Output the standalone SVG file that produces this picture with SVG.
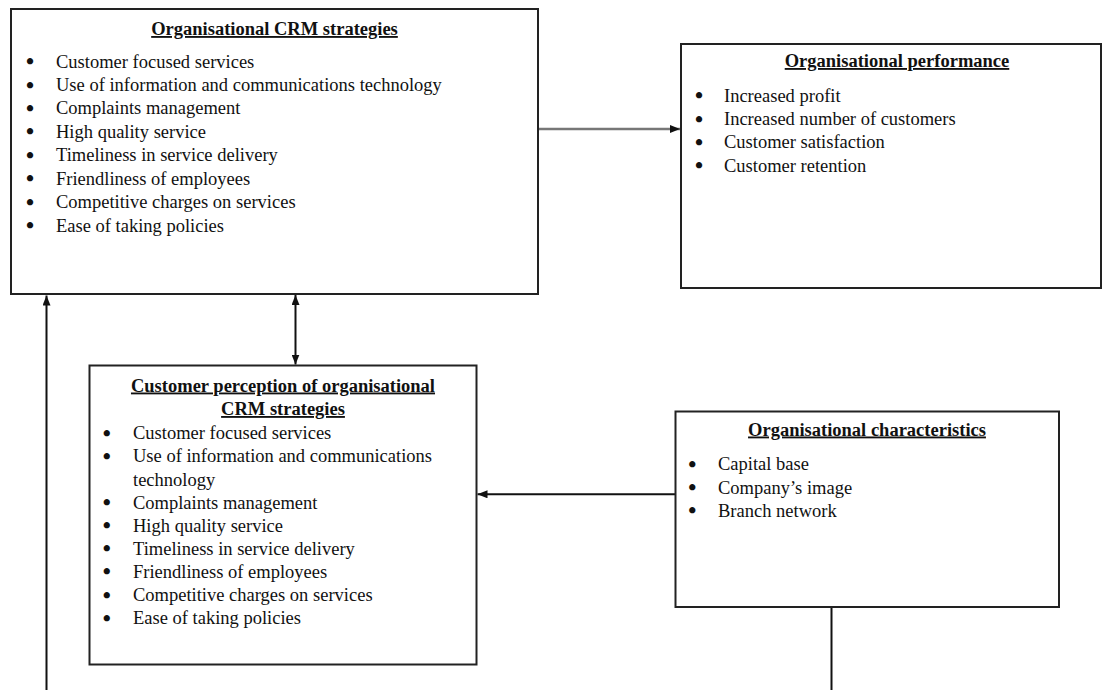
<svg xmlns="http://www.w3.org/2000/svg" width="1103" height="690" viewBox="0 0 1103 690">
<style>
.box{fill:#fff;stroke:#222;stroke-width:2}
.t{font-family:"Liberation Serif","Times New Roman",serif;font-size:18.5px;fill:#111}
.title{font-weight:bold;text-decoration:underline;text-anchor:middle}
.b{text-anchor:middle;font-size:23px;font-weight:bold}
.c{stroke:#111;stroke-width:2;fill:none}
</style>
<defs>
<marker id="ah" viewBox="0 0 10 8" markerWidth="10" markerHeight="8" refX="10" refY="4" orient="auto-start-reverse" markerUnits="userSpaceOnUse">
<path d="M0,0 L10,4 L0,8 z" fill="#111"/>
</marker>
</defs>
<rect width="1103" height="690" fill="#fff"/>
<g id="connectors">
<line class="c" x1="538" y1="129" x2="680" y2="129" style="stroke:#777;stroke-width:2.5" marker-end="url(#ah)"/>
<line class="c" x1="675" y1="494.3" x2="477.5" y2="494.3" marker-end="url(#ah)"/>
<line class="c" x1="295.5" y1="295" x2="295.5" y2="364.5" marker-start="url(#ah)" marker-end="url(#ah)"/>
<line class="c" x1="46.5" y1="690" x2="46.5" y2="295.5" marker-end="url(#ah)"/>
<line class="c" x1="831.5" y1="608" x2="831.5" y2="690"/>
</g>
<g id="crm-strategies">
<rect class="box" x="11" y="9" width="527" height="285"/>
<text class="t title" x="274.5" y="35">Organisational CRM strategies</text>
<g class="t">
<text class="b" x="30" y="69">•</text><text x="56" y="67.5">Customer focused services</text>
<text class="b" x="30" y="92.5">•</text><text x="56" y="91">Use of information and communications technology</text>
<text class="b" x="30" y="115.9">•</text><text x="56" y="114.4">Complaints management</text>
<text class="b" x="30" y="139.4">•</text><text x="56" y="137.9">High quality service</text>
<text class="b" x="30" y="162.8">•</text><text x="56" y="161.3">Timeliness in service delivery</text>
<text class="b" x="30" y="186.3">•</text><text x="56" y="184.8">Friendliness of employees</text>
<text class="b" x="30" y="209.7">•</text><text x="56" y="208.2">Competitive charges on services</text>
<text class="b" x="30" y="233.2">•</text><text x="56" y="231.7">Ease of taking policies</text>
</g>
</g>
<g id="performance">
<rect class="box" x="681" y="44" width="420" height="244"/>
<text class="t title" x="897" y="67">Organisational performance</text>
<g class="t">
<text class="b" x="699" y="103.2">•</text><text x="724" y="101.7">Increased profit</text>
<text class="b" x="699" y="126.5">•</text><text x="724" y="125">Increased number of customers</text>
<text class="b" x="699" y="149.8">•</text><text x="724" y="148.3">Customer satisfaction</text>
<text class="b" x="699" y="173.2">•</text><text x="724" y="171.7">Customer retention</text>
</g>
</g>
<g id="customer-perception">
<rect class="box" x="89.5" y="365.5" width="387" height="299"/>
<text class="t title" x="283" y="391.5">Customer perception of organisational</text>
<text class="t title" x="283" y="415">CRM strategies</text>
<g class="t">
<text class="b" x="106.7" y="440.8">•</text><text x="133" y="439.3">Customer focused services</text>
<text class="b" x="106.7" y="463.9">•</text><text x="133" y="462.4">Use of information and communications</text>
<text x="133" y="485.5">technology</text>
<text class="b" x="106.7" y="510.1">•</text><text x="133" y="508.6">Complaints management</text>
<text class="b" x="106.7" y="533.2">•</text><text x="133" y="531.7">High quality service</text>
<text class="b" x="106.7" y="556.3">•</text><text x="133" y="554.8">Timeliness in service delivery</text>
<text class="b" x="106.7" y="579.4">•</text><text x="133" y="577.9">Friendliness of employees</text>
<text class="b" x="106.7" y="602.5">•</text><text x="133" y="601">Competitive charges on services</text>
<text class="b" x="106.7" y="625.6">•</text><text x="133" y="624.1">Ease of taking policies</text>
</g>
</g>
<g id="characteristics">
<rect class="box" x="675.5" y="411.5" width="383.5" height="195.5"/>
<text class="t title" x="867" y="435.5">Organisational characteristics</text>
<g class="t">
<text class="b" x="692.3" y="471.8">•</text><text x="718" y="470.3">Capital base</text>
<text class="b" x="692.3" y="495">•</text><text x="718" y="493.5">Company’s image</text>
<text class="b" x="692.3" y="518.2">•</text><text x="718" y="516.7">Branch network</text>
</g>
</g>
</svg>
